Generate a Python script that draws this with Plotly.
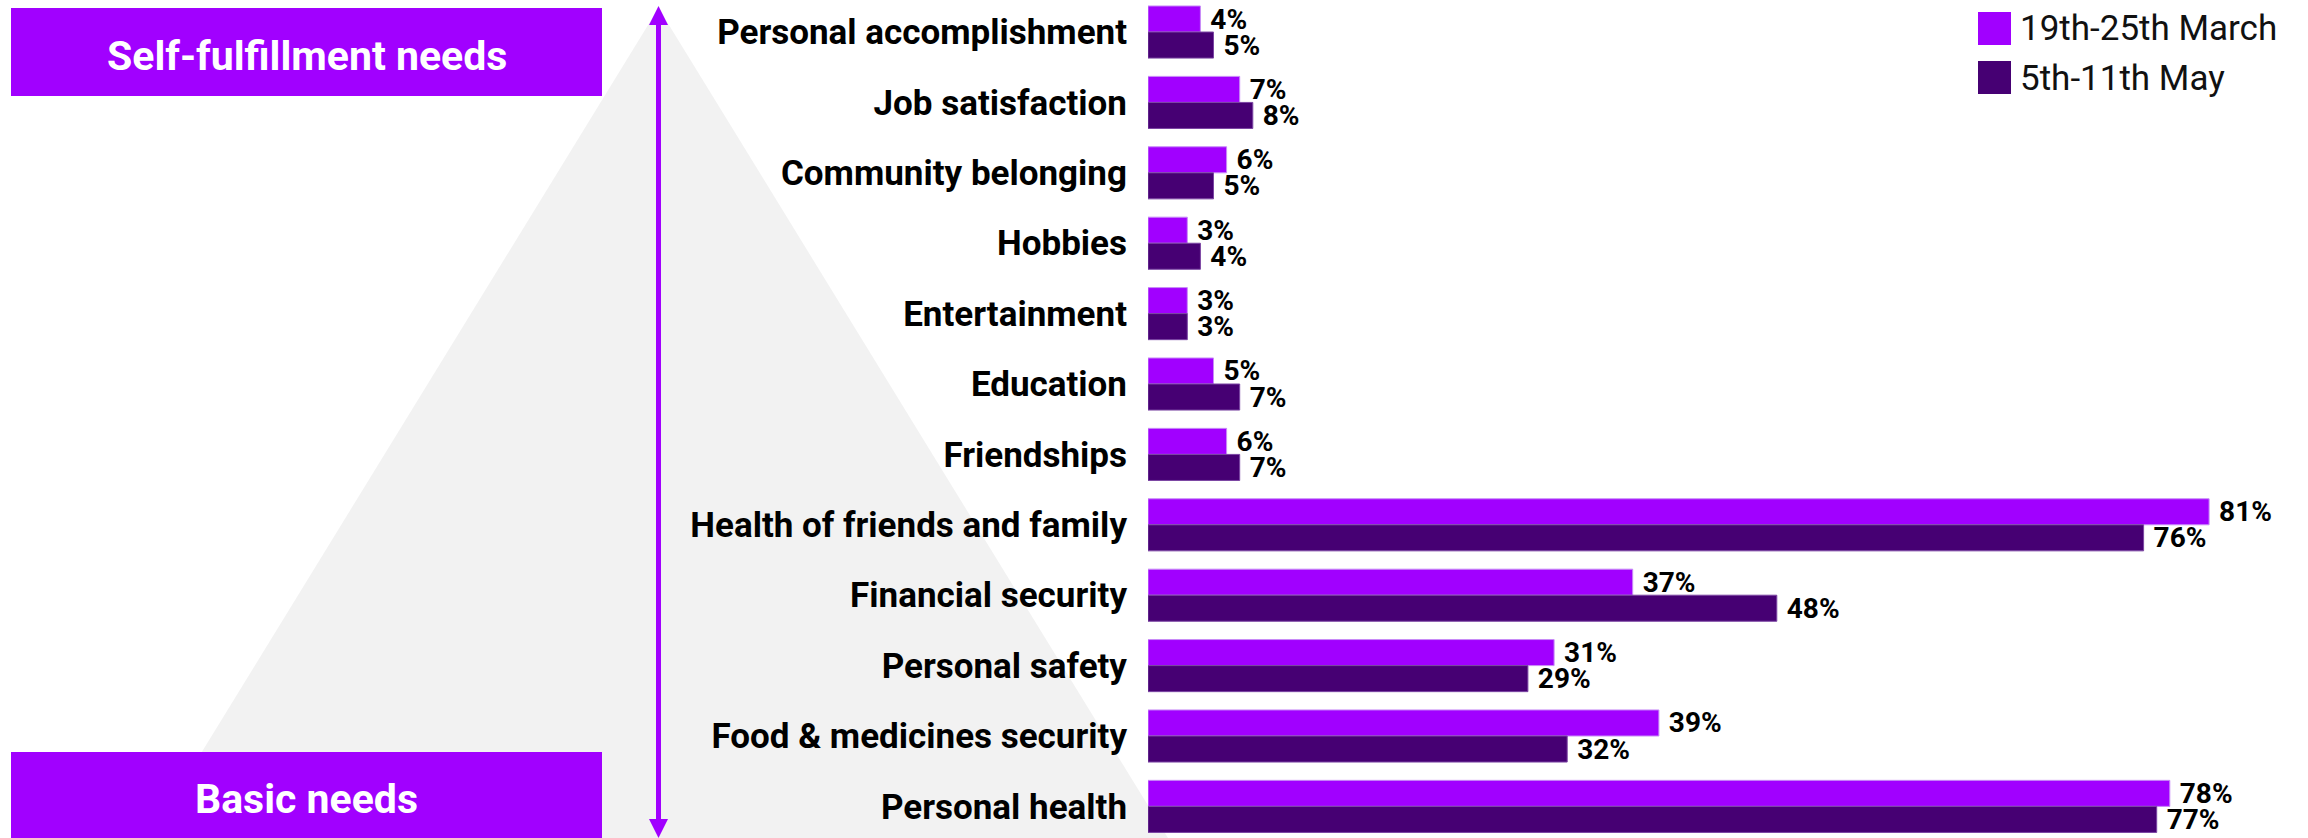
import plotly.graph_objects as go

# ---- data -----------------------------------------------------------------
categories = [
    "Personal accomplishment",
    "Job satisfaction",
    "Community belonging",
    "Hobbies",
    "Entertainment",
    "Education",
    "Friendships",
    "Health of friends and family",
    "Financial security",
    "Personal safety",
    "Food & medicines security",
    "Personal health",
]
series_names = ["19th-25th March", "5th-11th May"]
march_values = [4, 7, 6, 3, 3, 5, 6, 81, 37, 31, 39, 78]
may_values = [5, 8, 5, 4, 3, 7, 7, 76, 48, 29, 32, 77]
tier_labels = ["Self-fulfillment needs", "Basic needs"]

# ---- styling --------------------------------------------------------------
FIG_W, FIG_H = 2308, 838
MARGIN_L, MARGIN_R = 1148, 8
PLOT_W = FIG_W - MARGIN_L - MARGIN_R
PURPLE = "#a100ff"
DARK_PURPLE = "#460073"
GREY = "#f2f2f2"
FONT = "Roboto"


def px(x):
    """Horizontal pixel position -> paper coordinate."""
    return (x - MARGIN_L) / PLOT_W


def py(y):
    """Vertical pixel position (from top) -> paper coordinate."""
    return 1 - y / FIG_H


positions = list(range(len(categories)))
value_font = dict(family=FONT, size=28, color="#000000", weight="bold")

fig = go.Figure()
fig.add_trace(go.Bar(
    name=series_names[0], y=positions, x=march_values, orientation="h",
    marker=dict(color=PURPLE, line=dict(color="#c88cf7", width=1)),
    texttemplate="\u00a0%{x}%", textposition="outside", constraintext="none",
    textfont=value_font, cliponaxis=False, hoverinfo="skip",
))
fig.add_trace(go.Bar(
    name=series_names[1], y=positions, x=may_values, orientation="h",
    marker=dict(color=DARK_PURPLE, line=dict(color="#7b45a3", width=1)),
    texttemplate="\u00a0%{x}%", textposition="outside", constraintext="none",
    textfont=value_font, cliponaxis=False, hoverinfo="skip",
))

shapes = []
# grey pyramid behind the categories
shapes.append(dict(
    type="path", xref="paper", yref="paper", layer="below",
    path=f"M {px(658.5)},{py(8)} L {px(149)},{py(838)} L {px(1168)},{py(838)} Z",
    fillcolor=GREY, line=dict(width=0),
))
# tier boxes
for y0, y1 in [(8, 96), (752, 838)]:
    shapes.append(dict(
        type="rect", xref="paper", yref="paper", layer="above",
        x0=px(11), x1=px(602), y0=py(y1), y1=py(y0),
        fillcolor=PURPLE, line=dict(width=0),
    ))
# double-headed vertical arrow
shapes.append(dict(
    type="rect", xref="paper", yref="paper", layer="above",
    x0=px(656), x1=px(661), y0=py(822), y1=py(23),
    fillcolor=PURPLE, line=dict(width=0),
))
shapes.append(dict(
    type="path", xref="paper", yref="paper", layer="above",
    path=f"M {px(658.5)},{py(6)} L {px(649)},{py(25)} L {px(668)},{py(25)} Z",
    fillcolor=PURPLE, line=dict(width=0),
))
shapes.append(dict(
    type="path", xref="paper", yref="paper", layer="above",
    path=f"M {px(658.5)},{py(838)} L {px(649)},{py(819)} L {px(668)},{py(819)} Z",
    fillcolor=PURPLE, line=dict(width=0),
))
# legend swatches
for (y0, y1), color in zip([(12, 45), (61, 94)], [PURPLE, DARK_PURPLE]):
    shapes.append(dict(
        type="rect", xref="paper", yref="paper", layer="above",
        x0=px(1978), x1=px(2011), y0=py(y1), y1=py(y0),
        fillcolor=color, line=dict(width=0),
    ))

annotations = []
for label, yc in zip(tier_labels, [56, 799]):
    annotations.append(dict(
        text=label, xref="paper", yref="paper", x=px(306.5), y=py(yc),
        xanchor="center", yanchor="middle", showarrow=False,
        font=dict(family=FONT, size=41, color="#ffffff", weight="bold"),
    ))
for name, yc in zip(series_names, [29, 78]):
    annotations.append(dict(
        text=name, xref="paper", yref="paper", x=px(2018), y=py(yc),
        xanchor="left", yanchor="middle", showarrow=False,
        font=dict(family=FONT, size=35, color="#111111"),
    ))

fig.update_layout(
    width=FIG_W, height=FIG_H,
    margin=dict(l=MARGIN_L, r=MARGIN_R, t=0, b=0, pad=0),
    paper_bgcolor="#ffffff", plot_bgcolor="rgba(0,0,0,0)",
    barmode="group", bargap=0.26, bargroupgap=0,
    showlegend=False,
    shapes=shapes, annotations=annotations,
    xaxis=dict(range=[0, PLOT_W / 13.1], showgrid=False, zeroline=False,
               showticklabels=False, showline=False, fixedrange=True),
    yaxis=dict(
        range=[11.449, -0.455], tickmode="array", tickvals=positions,
        ticktext=categories, showgrid=False, zeroline=False, showline=False,
        ticks="", ticklabelstandoff=20,
        tickfont=dict(family=FONT, size=35, color="#000000", weight="bold"),
    ),
    font=dict(family=FONT),
)

fig.write_html("out.html")
